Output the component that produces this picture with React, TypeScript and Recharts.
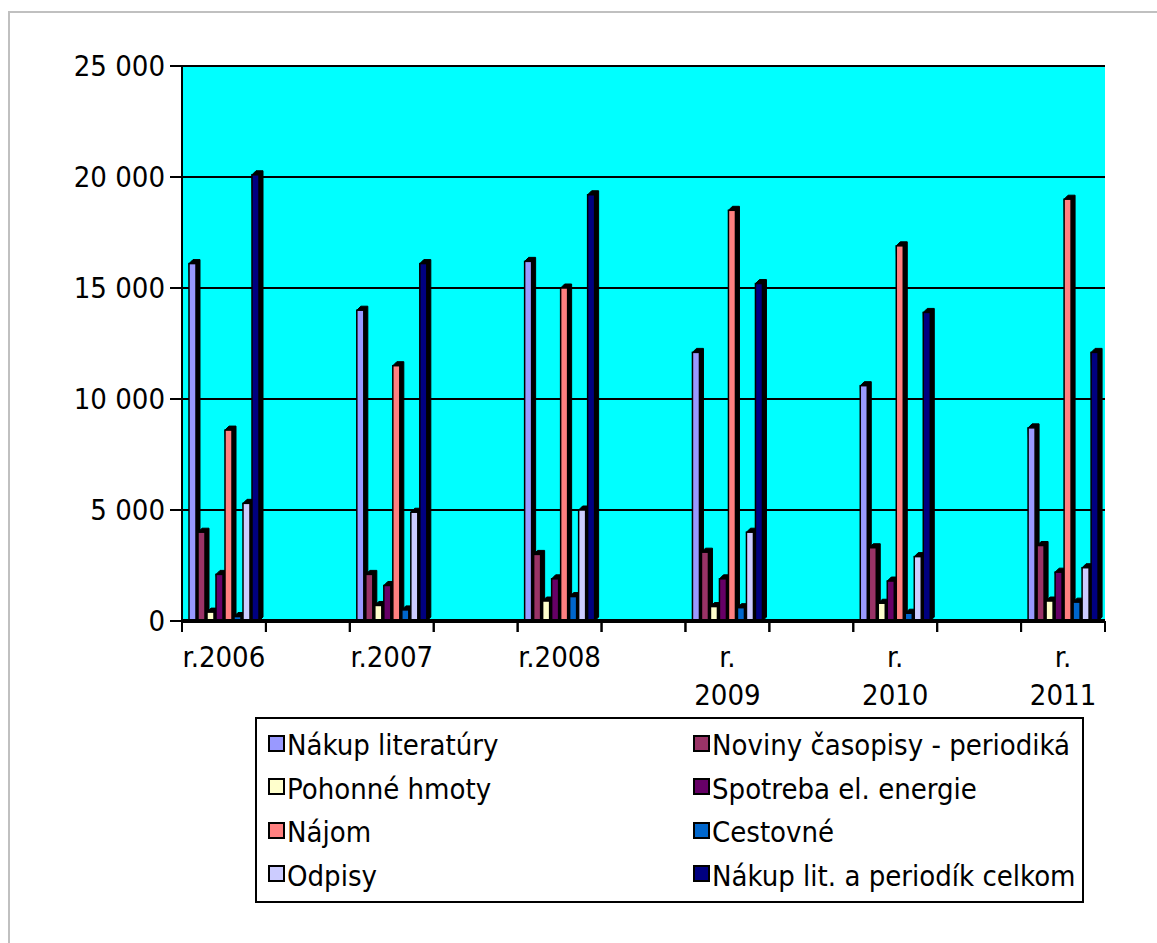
import React from "react";
import { BarChart, Bar, XAxis, YAxis, CartesianGrid, Legend } from "recharts";

const categories = ["r.2006", "r.2007", "r.2008", "r. 2009", "r. 2010", "r. 2011"];
const nakupLiteratury = [16100, 14000, 16200, 12100, 10600, 8700];
const novinyCasopisy = [4000, 2100, 3000, 3100, 3300, 3400];
const pohonneHmoty = [400, 700, 900, 650, 800, 900];
const spotrebaEnergie = [2100, 1600, 1900, 1900, 1800, 2200];
const najom = [8600, 11500, 15000, 18500, 16900, 19000];
const cestovne = [200, 500, 1100, 600, 350, 850];
const odpisy = [5300, 4900, 5000, 4000, 2900, 2400];
const nakupCelkom = [20100, 16100, 19200, 15200, 13900, 12100];
const yTicks = [0, 5000, 10000, 15000, 20000, 25000];

const series = [
  { key: "s1", name: "Nákup literatúry", values: nakupLiteratury, color: "#9999FF" },
  { key: "s2", name: "Noviny časopisy - periodiká", values: novinyCasopisy, color: "#993366" },
  { key: "s3", name: "Pohonné hmoty", values: pohonneHmoty, color: "#FFFFCC" },
  { key: "s4", name: "Spotreba el. energie", values: spotrebaEnergie, color: "#660066" },
  { key: "s5", name: "Nájom", values: najom, color: "#FF8080" },
  { key: "s6", name: "Cestovné", values: cestovne, color: "#0066CC" },
  { key: "s7", name: "Odpisy", values: odpisy, color: "#CCCCFF" },
  { key: "s8", name: "Nákup lit. a periodík celkom", values: nakupCelkom, color: "#000080" },
];

// spacer categories sit between the years, as in the original sheet
const data: any[] = [];
categories.forEach((c, i) => {
  const row: any = { cat: c };
  series.forEach((s) => (row[s.key] = s.values[i]));
  data.push(row);
  if (i < categories.length - 1) data.push({ cat: `gap${i}` });
});

const FONT = "'DejaVu Sans Condensed', 'Liberation Sans', sans-serif";
const FS = 29;

const fmt = (v: number) => String(v).replace(/\B(?=(\d{3})+(?!\d))/g, " ");

const Bar3D = (props: any) => {
  const { x, y, width, height, fill } = props;
  if (!height || height <= 0 || isNaN(height)) return null;
  const d = 4;
  const w = width;
  return (
    <g>
      <polygon
        points={`${x},${y} ${x + d},${y - d} ${x + w + d},${y - d} ${x + w + d},${y + height - d} ${x + w},${y + height}`}
        fill="#000"
        stroke="#000"
        strokeWidth={1}
      />
      <rect x={x} y={y} width={w} height={height} fill={fill} stroke="#000" strokeWidth={1.5} />
    </g>
  );
};

const XTick = (props: any) => {
  const { x, y, payload } = props;
  const off = payload && payload.offset != null ? payload.offset : 41.95;
  const val: string = payload.value;
  const isGap = val.startsWith("gap");
  const lines = isGap ? [] : val.split(" ");
  return (
    <g>
      <line x1={x - off} x2={x - off} y1={y} y2={y + 11} stroke="#000" strokeWidth={2} />
      <line x1={x + off} x2={x + off} y1={y} y2={y + 11} stroke="#000" strokeWidth={2} />
      {lines.map((l, i) => (
        <text
          key={i}
          x={x}
          y={y + 46 + i * 38}
          textAnchor="middle"
          fontFamily={FONT}
          fontSize={FS}
          fill="#000"
        >
          {l}
        </text>
      ))}
    </g>
  );
};

const LegendContent = () => {
  return (
    <div
      style={{
        width: 829,
        height: 186,
        border: "2px solid #000",
        boxSizing: "border-box",
        position: "relative",
        background: "#fff",
        fontFamily: FONT,
        fontSize: FS,
        color: "#000",
      }}
    >
      {series.map((s, i) => {
        const col = i % 2;
        const row = Math.floor(i / 2);
        return (
          <div
            key={s.key}
            style={{
              position: "absolute",
              left: col === 0 ? 11 : 436,
              top: 6 + row * 43.5,
              height: 40,
              display: "flex",
              alignItems: "center",
              whiteSpace: "nowrap",
            }}
          >
            <span
              style={{
                display: "inline-block",
                width: 13,
                height: 13,
                background: s.color,
                border: "2px solid #000",
                marginRight: 2,
                position: "relative",
                top: -2,
              }}
            />
            <span>{s.name}</span>
          </div>
        );
      })}
    </div>
  );
};

export default function App() {
  return (
    <div style={{ position: "absolute", left: 0, top: 0, width: 1157, height: 943, overflow: "hidden", background: "#fff" }}>
      <div
        style={{
          position: "absolute",
          left: 8,
          top: 11,
          width: 1300,
          height: 1100,
          border: "2px solid #C0C0C0",
        }}
      />
      <div style={{ position: "absolute", left: 0, top: 0 }}>
        <BarChart
          width={1157}
          height={943}
          data={data}
          margin={{ top: 66, right: 52, left: 0, bottom: 222 }}
          barSize={7}
          barGap={2}
        >
          <CartesianGrid
            vertical={false}
            horizontal={true}
            stroke="#000"
            strokeWidth={2}
            fill="#00FFFF"
            fillOpacity={1}
          />
          <XAxis
            dataKey="cat"
            interval={0}
            height={100}
            tickLine={false}
            tickSize={0}
            tickMargin={0}
            axisLine={{ stroke: "#000", strokeWidth: 4 }}
            tick={<XTick />}
          />
          <YAxis
            width={182}
            domain={[0, 25000]}
            ticks={yTicks}
            interval={0}
            tickFormatter={fmt}
            tickSize={12}
            tickMargin={5}
            tickLine={{ stroke: "#000", strokeWidth: 2 }}
            axisLine={{ stroke: "#000", strokeWidth: 2 }}
            tick={{ fill: "#000", fontFamily: FONT, fontSize: FS }}
          />
          <Legend
            verticalAlign="middle"
            align="center"
            layout="horizontal"
            content={<LegendContent />}
            wrapperStyle={{ left: 255, top: 717, width: 829, height: 186 }}
          />
          {series.map((s) => (
            <Bar
              key={s.key}
              dataKey={s.key}
              name={s.name}
              fill={s.color}
              isAnimationActive={false}
              shape={<Bar3D />}
            />
          ))}
        </BarChart>
      </div>
    </div>
  );
}
